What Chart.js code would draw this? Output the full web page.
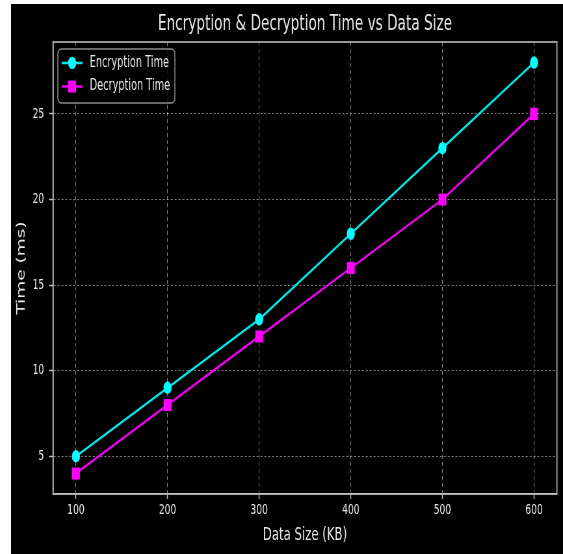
<!DOCTYPE html>
<html>
<head>
<meta charset="utf-8">
<script src="https://cdn.jsdelivr.net/npm/chart.js@4.4.0/dist/chart.umd.min.js"></script>
<style>
  html, body { margin: 0; padding: 0; background: #fff; }
  #wrap { position: absolute; left: 11px; top: 4px; width: 552px; height: 550px; background: #000; }
</style>
</head>
<body>
<div id="wrap"><canvas id="chart" width="849" height="550" style="width:552px;height:550px;display:block"></canvas></div>
<script>
"use strict"

const dataSizes = [100, 200, 300, 400, 500, 600];
const encryptionTimes = [5, 9, 13, 18, 23, 28];
const decryptionTimes = [4, 8, 12, 16, 20, 25];
const xTicks = [100, 200, 300, 400, 500, 600];
const yTicks = [5, 10, 15, 20, 25];
const seriesNames = ['Encryption Time', 'Decryption Time'];
const chartTitle = 'Encryption & Decryption Time vs Data Size';

const family = "'DejaVu Sans', sans-serif";
const textColor = '#e6e6e6';
const axisColor = '#bdbdbd';
const gridColor = 'rgba(255, 255, 255, 0.5)';

// canvas is drawn wide and squeezed to 552px, like the reference
const titlePlugin = {
    id: 'plotTitle',
    afterDraw(chart) {
        const ctx = chart.ctx;
        const area = chart.chartArea;
        ctx.save();
        ctx.font = '21px ' + family;
        ctx.fillStyle = textColor;
        ctx.textAlign = 'center';
        ctx.textBaseline = 'middle';
        ctx.fillText(chartTitle, (area.left + area.right) / 2, 21);
        ctx.restore();
    }
};

const framePlugin = {
    id: 'frame',
    afterDatasetsDraw(chart) {
        const ctx = chart.ctx;
        const a = chart.chartArea;
        ctx.save();
        ctx.strokeStyle = axisColor;
        ctx.lineWidth = 1.6;
        ctx.strokeRect(a.left, a.top, a.right - a.left, a.bottom - a.top);
        ctx.restore();
    }
};

const legendPlugin = {
    id: 'boxLegend',
    afterDraw(chart) {
        const ctx = chart.ctx;
        ctx.save();
        ctx.beginPath();
        ctx.roundRect(72, 45, 180, 54, 5);
        ctx.fillStyle = 'rgba(0, 0, 0, 0.8)';
        ctx.fill();
        ctx.strokeStyle = '#8c8c8c';
        ctx.lineWidth = 1.5;
        ctx.stroke();
        chart.data.datasets.forEach((ds, i) => {
            const y = 59 + i * 23.5;
            ctx.strokeStyle = ds.borderColor;
            ctx.lineWidth = ds.borderWidth;
            ctx.beginPath();
            ctx.moveTo(78, y);
            ctx.lineTo(110, y);
            ctx.stroke();
            ctx.fillStyle = ds.pointBackgroundColor;
            ctx.strokeStyle = ds.pointBorderColor;
            Chart.helpers.drawPoint(ctx, {
                pointStyle: ds.pointStyle, radius: ds.pointRadius, rotation: 0, borderWidth: 1
            }, 94, y);
            ctx.font = '15px ' + family;
            ctx.fillStyle = textColor;
            ctx.textAlign = 'left';
            ctx.textBaseline = 'middle';
            ctx.fillText(ds.label, 121, y);
        });
        ctx.restore();
    }
};

const plotData = {
    datasets: [
        {
            label: seriesNames[0],
            data: dataSizes.map((s, i) => ({ x: s, y: encryptionTimes[i] })),
            borderColor: '#00e5e5',
            backgroundColor: '#00ffff',
            pointBackgroundColor: '#00ffff',
            pointBorderColor: '#00ffff',
            borderWidth: 2.5,
            pointStyle: 'circle',
            pointRadius: 5
        },
        {
            label: seriesNames[1],
            data: dataSizes.map((s, i) => ({ x: s, y: decryptionTimes[i] })),
            borderColor: '#f000f0',
            backgroundColor: '#ff00ff',
            pointBackgroundColor: '#ff00ff',
            pointBorderColor: '#ff00ff',
            borderWidth: 2.5,
            pointStyle: 'rect',
            pointRadius: 6.8
        }
    ]
};

const config = {
    type: 'line',
    data: plotData,
    options: {
        responsive: false,
        animation: false,
        devicePixelRatio: 1,
        layout: { padding: { top: 38, right: 4.4, left: 0, bottom: 0 } },
        plugins: {
            legend: { display: false },
            title: { display: false },
            tooltip: { enabled: false }
        },
        scales: {
            x: {
                type: 'linear',
                min: 75,
                max: 625,
                afterBuildTicks: s => { s.ticks = xTicks.map(v => ({ value: v })); },
                afterFit: s => { s.height = 60; },
                grid: {
                    color: gridColor, lineWidth: 1, drawTicks: true, tickLength: 5,
                    tickColor: axisColor, tickWidth: 1.5, tickBorderDash: []
                },
                border: { display: true, color: axisColor, width: 1.6, dash: [4, 3] },
                ticks: { color: textColor, font: { size: 14, family: family }, padding: 3, maxRotation: 0, autoSkip: false },
                title: {
                    display: true, text: 'Data Size (KB)', color: textColor,
                    font: { size: 18, family: family }, padding: { top: 0, bottom: 8.2 }
                }
            },
            y: {
                type: 'linear',
                min: 2.8,
                max: 29.2,
                afterBuildTicks: s => { s.ticks = yTicks.map(v => ({ value: v })); },
                afterFit: s => { s.width = 64.6; },
                grid: {
                    color: gridColor, lineWidth: 1, drawTicks: true, tickLength: 6,
                    tickColor: axisColor, tickWidth: 1.5, tickBorderDash: []
                },
                border: { display: true, color: axisColor, width: 1.6, dash: [3, 3] },
                ticks: { color: textColor, font: { size: 14, family: family }, padding: 7.6, autoSkip: false },
                title: {
                    display: true, text: 'Time (ms)', color: textColor,
                    font: { size: 18.5, family: family }, padding: { top: 4.6, bottom: 0 }
                }
            }
        }
    },
    plugins: [framePlugin, titlePlugin, legendPlugin]
};

const canvas = document.getElementById('chart').getContext('2d');
const chart1 = new Chart(canvas, config);
</script>
</body>
</html>
